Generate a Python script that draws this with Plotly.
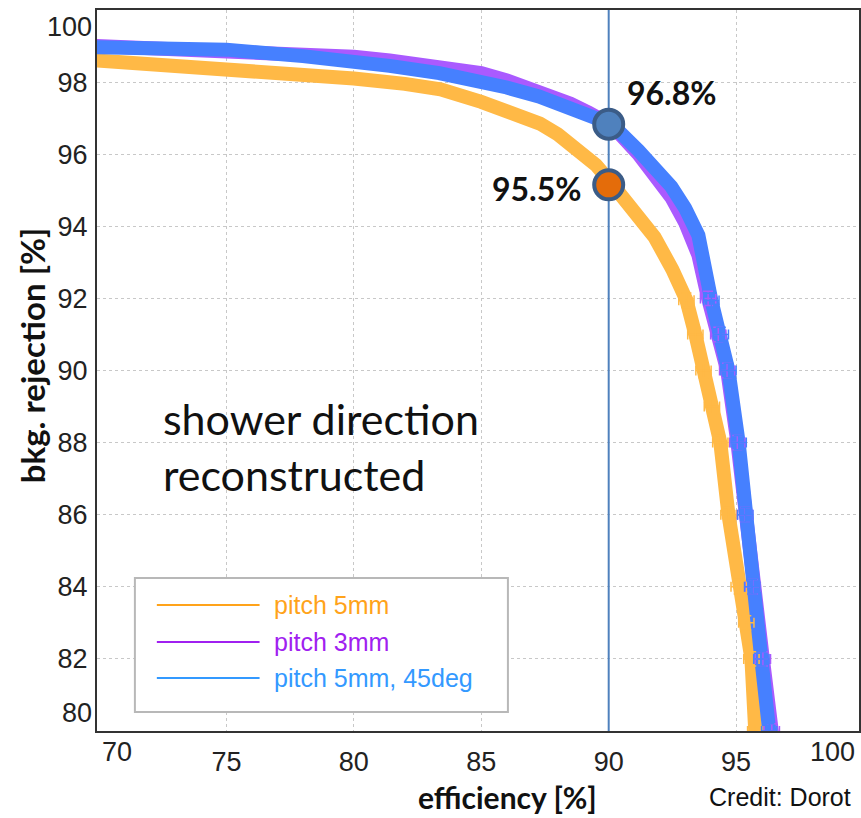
import plotly.graph_objects as go

# ---------------- data ----------------
eff_5mm = [69.9, 72.0, 75.0, 78.0, 80.0, 82.0, 83.4, 85.0, 86.0, 87.3, 88.0, 88.8, 89.5, 90.1,
           90.6, 91.2, 91.8, 92.5, 93.05, 93.4, 93.72, 94.05, 94.38, 94.7, 95.1, 95.4, 95.6, 95.75]
rej_5mm = [98.6, 98.5, 98.4, 98.25, 98.1, 97.95, 97.8, 97.45, 97.2, 96.85, 96.55, 96.1, 95.7, 95.2,
           94.8, 94.3, 93.7, 92.8, 91.95, 91.0, 90.0, 89.0, 88.0, 86.0, 84.0, 83.0, 82.0, 80.0]

eff_3mm = [69.9, 72.0, 75.0, 78.0, 80.0, 81.4, 83.35, 85.0, 86.0, 87.26, 88.5, 89.22, 90.12,
           91.17, 91.8, 92.46, 93.0, 93.52, 93.9, 94.3, 94.65, 95.05, 95.35, 95.65, 96.05, 96.4]
rej_3mm = [99.0, 98.95, 98.9, 98.78, 98.7, 98.6, 98.42, 98.25, 98.05, 97.75, 97.4, 97.15, 96.8,
           96.0, 95.4, 94.8, 94.1, 93.2, 92.0, 91.0, 90.0, 88.0, 86.0, 84.0, 82.0, 80.0]

eff_5mm45 = [69.9, 72.0, 75.0, 78.0, 80.0, 81.4, 83.35, 85.0, 86.0, 87.26, 88.5, 89.22, 90.12,
             91.17, 91.8, 92.46, 93.0, 93.52, 94.03, 94.4, 94.7, 95.1, 95.36, 95.63, 95.99, 96.3]
rej_5mm45 = [98.97, 98.95, 98.9, 98.72, 98.6, 98.45, 98.25, 98.05, 97.85, 97.6, 97.3, 97.15, 96.83,
             96.1, 95.6, 95.1, 94.5, 93.75, 91.94, 91.0, 90.0, 88.0, 86.0, 84.0, 82.0, 80.0]

series_names = ["pitch 5mm", "pitch 3mm", "pitch 5mm, 45deg"]
legend_colors = ["#ffa31a", "#a020f0", "#3399ff"]
band_colors = ["#ffb946", "#aa5aff", "#4680ff"]

x_tickvals = [75, 80, 85, 90, 95]
y_tickvals = [82, 84, 86, 88, 90, 92, 94, 96, 98]
x_edge_labels = ["70", "100"]
y_edge_labels = ["100", "80"]

wp_eff = 90
wp_rej = [96.83, 95.15]
wp_labels = ["96.8%", "95.5%"]
wp_colors = ["#4f81bd", "#e46c0a"]
y_full = [80, 100]

x_title = "efficiency [%]"
y_title = "bkg. rejection [%]"
note_lines = ["shower direction", "reconstructed"]
credit = "Credit: Dorot"

# ---------------- geometry helpers (pixels -> paper) ----------------
W, H = 861, 818
L, R, T, B = 97, 861, 10, 731
TICKFONT = "Liberation Sans, Arial"
TITLEFONT = "Lato, Open Sans"


def px(x):
    return (x - L) / (R - L)


def py(y):
    return (B - y) / (B - T)


fig = go.Figure()

all_series = [(eff_5mm, rej_5mm), (eff_3mm, rej_3mm), (eff_5mm45, rej_5mm45)]
for (ex, ry), col in zip(all_series, band_colors):
    fig.add_trace(go.Scatter(x=ex, y=ry, mode="lines",
                             line=dict(color=col, width=14),
                             showlegend=False, hoverinfo="skip"))
for (ex, ry), col in zip(all_series, band_colors):
    tx = [a for a, b in zip(ex, ry) if b <= 92.5]
    ty = [b for b in ry if b <= 92.5]
    fig.add_trace(go.Scatter(x=tx, y=ty, mode="markers",
                             marker=dict(size=2, color=col),
                             error_x=dict(type="constant", value=0.3, color=col, thickness=1.5, width=5),
                             error_y=dict(type="constant", value=0.2, color=col, thickness=1.5, width=5),
                             showlegend=False, hoverinfo="skip"))

# working point vertical line and markers
fig.add_trace(go.Scatter(x=[wp_eff, wp_eff], y=y_full, mode="lines",
                         line=dict(color="#4f81bd", width=2),
                         showlegend=False, hoverinfo="skip"))
fig.add_trace(go.Scatter(x=[wp_eff] * len(wp_rej), y=wp_rej, mode="markers",
                         marker=dict(size=29, color=wp_colors,
                                     line=dict(color="#3b5c87", width=4)),
                         showlegend=False, hoverinfo="skip"))

shapes = [
    # legend box
    dict(type="rect", xref="paper", yref="paper", x0=px(135), x1=px(509), y0=py(712), y1=py(578),
         line=dict(color="#b8b8b8", width=2), fillcolor="white", layer="above"),
]
annotations = []
leg_rows = [605, 642, 678]
for name, col, yy in zip(series_names, legend_colors, leg_rows):
    shapes.append(dict(type="line", xref="paper", yref="paper", x0=px(157), x1=px(260),
                       y0=py(yy), y1=py(yy), line=dict(color=col, width=2), layer="above"))
    annotations.append(dict(xref="paper", yref="paper", x=px(272), y=py(yy), text=name,
                            showarrow=False, xanchor="left", yanchor="middle",
                            font=dict(family=TICKFONT, size=25, color=col)))

# edge tick labels
annotations.append(dict(xref="paper", yref="paper", x=px(117), y=py(752), text=x_edge_labels[0],
                        showarrow=False, xanchor="center", yanchor="middle",
                        font=dict(family=TICKFONT, size=27, color="#222")))
annotations.append(dict(xref="paper", yref="paper", x=px(859), y=py(752), text=x_edge_labels[1],
                        showarrow=False, xanchor="right", yanchor="middle",
                        font=dict(family=TICKFONT, size=27, color="#222")))
for txt, yy in zip(y_edge_labels, [27, 713]):
    annotations.append(dict(xref="paper", yref="paper", x=px(94), y=py(yy), text=txt,
                            showarrow=False, xanchor="right", yanchor="middle",
                            font=dict(family=TICKFONT, size=27, color="#222")))

# working point labels
annotations.append(dict(xref="paper", yref="paper", x=px(626), y=py(93), text="<b>%s</b>" % wp_labels[0],
                        showarrow=False, xanchor="left", yanchor="middle",
                        font=dict(family=TITLEFONT, size=32, color="#111")))
annotations.append(dict(xref="paper", yref="paper", x=px(585), y=py(188), text="<b>%s</b>" % wp_labels[1],
                        showarrow=False, xanchor="right", yanchor="middle",
                        font=dict(family=TITLEFONT, size=32, color="#111")))

# note text
for line, yy in zip(note_lines, [418, 475]):
    annotations.append(dict(xref="paper", yref="paper", x=px(161), y=py(yy), text=line,
                            showarrow=False, xanchor="left", yanchor="middle",
                            font=dict(family=TITLEFONT, size=43, color="#111")))

# axis titles
annotations.append(dict(xref="paper", yref="paper", x=px(509), y=py(797), text="<b>%s</b>" % x_title,
                        showarrow=False, xanchor="center", yanchor="middle",
                        font=dict(family=TITLEFONT, size=30, color="#111")))
annotations.append(dict(xref="paper", yref="paper", x=px(32), y=py(355), text="<b>%s</b>" % y_title,
                        showarrow=False, xanchor="center", yanchor="middle", textangle=-90,
                        font=dict(family=TITLEFONT, size=33, color="#111")))
annotations.append(dict(xref="paper", yref="paper", x=px(709), y=py(797), text=credit,
                        showarrow=False, xanchor="left", yanchor="middle",
                        font=dict(family=TICKFONT, size=25, color="#111")))

fig.update_layout(
    width=W, height=H,
    margin=dict(l=L, r=W - R, t=T, b=H - B),
    paper_bgcolor="white", plot_bgcolor="white",
    showlegend=False,
    shapes=shapes, annotations=annotations,
    xaxis=dict(range=[69.92, 69.92 + (R - L) / 25.55], tickvals=x_tickvals,
               ticktext=[str(v) for v in x_tickvals],
               showgrid=True, gridcolor="#c8c8c8", griddash="dot", gridwidth=1,
               showline=True, linecolor="#333", linewidth=2, mirror=True,
               ticks="", zeroline=False, ticklabelstandoff=6,
               tickfont=dict(family=TICKFONT, size=27, color="#222")),
    yaxis=dict(range=y_full, tickvals=y_tickvals,
               ticktext=[str(v) for v in y_tickvals],
               showgrid=True, gridcolor="#c8c8c8", griddash="dot", gridwidth=1,
               showline=True, linecolor="#333", linewidth=2, mirror=True,
               ticks="", zeroline=False, ticklabelstandoff=2,
               tickfont=dict(family=TICKFONT, size=27, color="#222")),
)

fig.write_html("out.html")
